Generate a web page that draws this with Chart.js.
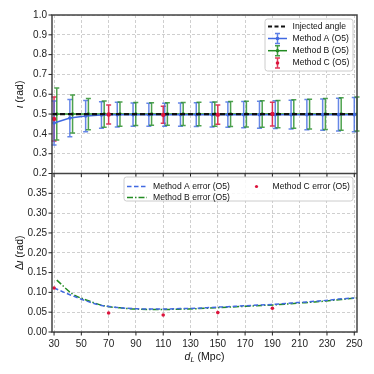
<!DOCTYPE html>
<html>
<head>
<meta charset="utf-8">
<script src="https://cdn.jsdelivr.net/npm/chart.js@4.4.1/dist/chart.umd.min.js"></script>
<style>
  html, body { margin: 0; padding: 0; background: #fff; }
  canvas { display: block; }
</style>
</head>
<body>
<canvas id="chart" width="374" height="374"></canvas>
<script>
// luminosity distance (Mpc)
var distances = [30, 41.58, 53.16, 64.74, 76.32, 87.89, 99.47, 111.05, 122.63, 134.21,
                 145.79, 157.37, 168.95, 180.53, 192.11, 203.68, 215.26, 226.84, 238.42, 250];
var methodAMean = [0.455, 0.480, 0.490, 0.495, 0.497, 0.497, 0.497, 0.497, 0.497, 0.497,
                   0.497, 0.497, 0.497, 0.497, 0.497, 0.497, 0.497, 0.497, 0.497, 0.497];
var methodAErr = [0.111, 0.094, 0.079, 0.067, 0.062, 0.059, 0.058, 0.058, 0.059, 0.060,
                  0.062, 0.064, 0.066, 0.068, 0.070, 0.073, 0.076, 0.079, 0.083, 0.086];
var methodBMean = [0.500, 0.500, 0.500, 0.500, 0.500, 0.500, 0.500, 0.500, 0.500, 0.500,
                   0.500, 0.500, 0.500, 0.500, 0.500, 0.500, 0.500, 0.500, 0.500, 0.500];
var methodBErr = [0.131, 0.096, 0.079, 0.066, 0.061, 0.058, 0.057, 0.057, 0.058, 0.059,
                  0.061, 0.063, 0.065, 0.067, 0.069, 0.072, 0.075, 0.078, 0.082, 0.086];
var methodBShift = 2; // method B drawn slightly to the right
var methodCDist = [30, 70, 110, 150, 190];
var methodCMean = [0.475, 0.498, 0.496, 0.497, 0.500];
var methodCErr = [0.111, 0.048, 0.043, 0.049, 0.060];
var injectedAngle = 0.5;

var xTicks = [30, 50, 70, 90, 110, 130, 150, 170, 190, 210, 230, 250];
var topTicks = [0.2, 0.3, 0.4, 0.5, 0.6, 0.7, 0.8, 0.9, 1.0];
var bottomTicks = [0, 0.05, 0.10, 0.15, 0.20, 0.25, 0.30, 0.35];
var xRange = [28.5, 252];

var BLUE = 'rgb(65,105,225)', GREEN = 'rgb(34,139,34)', RED = 'rgb(220,20,60)';
var FONT = '"Liberation Sans", Arial, sans-serif';

function pts(xs, ys, shift) {
  return xs.map(function (x, i) { return { x: x + (shift || 0), y: ys[i] }; });
}

// vertical error bars with caps
var errorBars = {
  id: 'errorBars',
  beforeDatasetsDraw: function (chart) {
    var ctx = chart.ctx;
    chart.data.datasets.forEach(function (ds, i) {
      if (!ds.errors) return;
      var meta = chart.getDatasetMeta(i);
      var ys = chart.scales[ds.yAxisID];
      ctx.save();
      ctx.strokeStyle = ds.errorColor;
      ctx.lineWidth = 1.5;
      meta.data.forEach(function (p, j) {
        var v = ds.data[j].y, e = ds.errors[j];
        var y1 = ys.getPixelForValue(v - e), y2 = ys.getPixelForValue(v + e);
        ctx.beginPath();
        ctx.moveTo(p.x, y1); ctx.lineTo(p.x, y2);
        ctx.moveTo(p.x - 2.5, y1); ctx.lineTo(p.x + 2.5, y1);
        ctx.moveTo(p.x - 2.5, y2); ctx.lineTo(p.x + 2.5, y2);
        ctx.stroke();
      });
      ctx.restore();
    });
  }
};

// axes frame, panel divider and tick marks
var frame = {
  id: 'frame',
  afterDatasetsDraw: function (chart) {
    var ctx = chart.ctx, a = chart.chartArea;
    var top = chart.scales.yTop, bot = chart.scales.yBot, xs = chart.scales.x;
    ctx.save();
    ctx.strokeStyle = '#444';
    ctx.lineWidth = 1.5;
    ctx.strokeRect(a.left, a.top, a.right - a.left, a.bottom - a.top);
    ctx.beginPath();
    ctx.moveTo(a.left, top.bottom); ctx.lineTo(a.right, top.bottom);
    ctx.stroke();
    ctx.lineWidth = 1;
    ctx.strokeStyle = '#222';
    ctx.beginPath();
    xTicks.forEach(function (v) {
      var x = xs.getPixelForValue(v);
      ctx.moveTo(x, a.bottom); ctx.lineTo(x, a.bottom + 3.5);
      ctx.moveTo(x, top.bottom); ctx.lineTo(x, top.bottom + 3.5);
    });
    topTicks.forEach(function (v) {
      var y = top.getPixelForValue(v);
      ctx.moveTo(a.left - 3.5, y); ctx.lineTo(a.left, y);
    });
    bottomTicks.forEach(function (v) {
      var y = bot.getPixelForValue(v);
      ctx.moveTo(a.left - 3.5, y); ctx.lineTo(a.left, y);
    });
    ctx.stroke();
    ctx.restore();
  }
};

function handleLine(ctx, x, y, w, color, dash, lw) {
  ctx.save();
  ctx.strokeStyle = color; ctx.lineWidth = lw; ctx.setLineDash(dash);
  ctx.beginPath(); ctx.moveTo(x, y); ctx.lineTo(x + w, y); ctx.stroke();
  ctx.restore();
}
function handleErr(ctx, cx, y, color) {
  ctx.save();
  ctx.strokeStyle = color; ctx.lineWidth = 1.5; ctx.globalAlpha = 0.85;
  ctx.beginPath();
  ctx.moveTo(cx, y - 5); ctx.lineTo(cx, y + 5);
  ctx.moveTo(cx - 2.5, y - 5); ctx.lineTo(cx + 2.5, y - 5);
  ctx.moveTo(cx - 2.5, y + 5); ctx.lineTo(cx + 2.5, y + 5);
  ctx.stroke();
  ctx.globalAlpha = 1;
  ctx.fillStyle = color;
  ctx.beginPath(); ctx.arc(cx, y, 1.8, 0, Math.PI * 2); ctx.fill();
  ctx.restore();
}
function legendBox(ctx, x, y, w, h) {
  ctx.save();
  ctx.fillStyle = 'rgba(255,255,255,0.85)';
  ctx.strokeStyle = '#cccccc';
  ctx.lineWidth = 1;
  ctx.beginPath();
  ctx.roundRect(x, y, w, h, 2.5);
  ctx.fill(); ctx.stroke();
  ctx.restore();
}

// legends drawn matplotlib style inside each panel, plus axis titles
var legends = {
  id: 'legends',
  afterDraw: function (chart) {
    var ctx = chart.ctx, a = chart.chartArea, top = chart.scales.yTop, bot = chart.scales.yBot;
    ctx.save();
    ctx.font = '8.6px ' + FONT;
    ctx.textBaseline = 'middle';
    ctx.fillStyle = '#111';

    // top panel
    var lx = a.right - 92, ly = a.top + 4;
    legendBox(ctx, lx, ly, 88, 52);
    var rows = [ly + 7.5, ly + 19.5, ly + 31.7, ly + 44];
    handleLine(ctx, lx + 3, rows[0], 19, '#111', [4, 2.5], 2);
    handleLine(ctx, lx + 3, rows[1], 19, BLUE, [], 1.5);
    handleErr(ctx, lx + 12.5, rows[1], BLUE);
    handleLine(ctx, lx + 3, rows[2], 19, GREEN, [], 1.5);
    handleErr(ctx, lx + 12.5, rows[2], GREEN);
    handleErr(ctx, lx + 12.5, rows[3], RED);
    ['Injected angle', 'Method A (O5)', 'Method B (O5)', 'Method C (O5)'].forEach(function (t, i) {
      ctx.fillText(t, lx + 27.5, rows[i]);
    });

    // bottom panel
    var bx = a.left + 72, by = top.bottom + 3.5;
    legendBox(ctx, bx, by, a.right - 4 - bx, 24);
    handleLine(ctx, bx + 3, by + 9.5, 20, BLUE, [4.5, 2.5], 1.5);
    handleLine(ctx, bx + 3, by + 20.5, 20, GREEN, [6, 2, 1.5, 2], 1.5);
    ctx.fillStyle = RED;
    ctx.beginPath(); ctx.arc(bx + 132.5, by + 9.5, 1.6, 0, Math.PI * 2); ctx.fill();
    ctx.fillStyle = '#111';
    ctx.fillText('Method A error (O5)', bx + 29, by + 9.5);
    ctx.fillText('Method B error (O5)', bx + 29, by + 20.5);
    ctx.fillText('Method C error (O5)', bx + 148.5, by + 9.5);

    // axis titles
    ctx.font = '10.5px ' + FONT;
    ctx.textAlign = 'center';
    ctx.save();
    ctx.translate(20, (top.top + top.bottom) / 2);
    ctx.rotate(-Math.PI / 2);
    ctx.font = 'italic 10.5px ' + FONT;
    var w1 = ctx.measureText('ι').width;
    ctx.font = '10.5px ' + FONT;
    var w2 = ctx.measureText(' (rad)').width;
    ctx.textAlign = 'left';
    ctx.font = 'italic 10.5px ' + FONT;
    ctx.fillText('ι', -(w1 + w2) / 2, 0);
    ctx.font = '10.5px ' + FONT;
    ctx.fillText(' (rad)', -(w1 + w2) / 2 + w1, 0);
    ctx.restore();

    ctx.save();
    ctx.translate(20, (bot.top + bot.bottom) / 2);
    ctx.rotate(-Math.PI / 2);
    var d1 = ctx.measureText('Δ').width;
    ctx.font = 'italic 10.5px ' + FONT;
    var d2 = ctx.measureText('ι').width;
    ctx.font = '10.5px ' + FONT;
    var d3 = ctx.measureText(' (rad)').width;
    var s = -(d1 + d2 + d3) / 2;
    ctx.textAlign = 'left';
    ctx.fillText('Δ', s, 0);
    ctx.font = 'italic 10.5px ' + FONT;
    ctx.fillText('ι', s + d1, 0);
    ctx.font = '10.5px ' + FONT;
    ctx.fillText(' (rad)', s + d1 + d2, 0);
    ctx.restore();

    // x title: d_L (Mpc)
    ctx.textAlign = 'left';
    ctx.font = 'italic 10.5px ' + FONT;
    var e1 = ctx.measureText('d').width;
    ctx.font = 'italic 7.5px ' + FONT;
    var e2 = ctx.measureText('L').width;
    ctx.font = '10.5px ' + FONT;
    var e3 = ctx.measureText(' (Mpc)').width;
    var sx = (a.left + a.right) / 2 - (e1 + e2 + e3) / 2, sy = 357;
    ctx.font = 'italic 10.5px ' + FONT;
    ctx.fillText('d', sx, sy);
    ctx.font = 'italic 7.5px ' + FONT;
    ctx.fillText('L', sx + e1, sy + 3);
    ctx.font = '10.5px ' + FONT;
    ctx.fillText(' (Mpc)', sx + e1 + e2, sy);
    ctx.restore();
  }
};

var gridOpts = { color: 'rgba(175,175,175,0.75)', lineWidth: 0.8, drawTicks: false };
var tickFont = { family: FONT, size: 10 };

var chart = new Chart(document.getElementById('chart'), {
  type: 'line',
  data: {
    datasets: [
      {
        label: 'Method C (O5)', yAxisID: 'yTop', order: 0,
        data: pts(methodCDist, methodCMean), errors: methodCErr, errorColor: 'rgba(220,20,60,0.85)',
        showLine: false, pointRadius: 2.2, pointBackgroundColor: RED, pointBorderWidth: 0
      },
      {
        label: 'Injected angle', yAxisID: 'yTop', order: 1,
        data: pts(xRange, [injectedAngle, injectedAngle]),
        borderColor: '#111', borderWidth: 2.2, borderDash: [5, 3], pointRadius: 0
      },
      {
        label: 'Method A (O5)', yAxisID: 'yTop', order: 2,
        data: pts(distances, methodAMean), errors: methodAErr, errorColor: 'rgba(65,105,225,0.8)',
        borderColor: BLUE, borderWidth: 1.5, pointRadius: 1.8, pointBackgroundColor: BLUE, pointBorderWidth: 0
      },
      {
        label: 'Method B (O5)', yAxisID: 'yTop', order: 3,
        data: pts(distances, methodBMean, methodBShift), errors: methodBErr, errorColor: 'rgba(34,139,34,0.8)',
        borderColor: GREEN, borderWidth: 1.5, pointRadius: 1.8, pointBackgroundColor: GREEN, pointBorderWidth: 0
      },
      {
        label: 'Method A error (O5)', yAxisID: 'yBot', order: 5,
        data: pts(distances, methodAErr),
        borderColor: BLUE, borderWidth: 1.5, borderDash: [4.5, 2.5], pointRadius: 0, cubicInterpolationMode: 'monotone'
      },
      {
        label: 'Method B error (O5)', yAxisID: 'yBot', order: 6,
        data: pts(distances, methodBErr, methodBShift),
        borderColor: GREEN, borderWidth: 1.5, borderDash: [6, 2, 1.5, 2], pointRadius: 0, cubicInterpolationMode: 'monotone'
      },
      {
        label: 'Method C error (O5)', yAxisID: 'yBot', order: 4,
        data: pts(methodCDist, methodCErr),
        showLine: false, pointRadius: 1.8, pointBackgroundColor: RED, pointBorderWidth: 0
      }
    ]
  },
  options: {
    responsive: false,
    animation: false,
    devicePixelRatio: 1,
    layout: { padding: { top: 15, right: 17, left: 0, bottom: 0 } },
    plugins: { legend: { display: false }, tooltip: { enabled: false } },
    scales: {
      x: {
        type: 'linear', min: xRange[0], max: xRange[1],
        afterBuildTicks: function (s) { s.ticks = xTicks.map(function (v) { return { value: v }; }); },
        afterFit: function (s) { s.height = 42; },
        grid: gridOpts,
        border: { display: false, dash: [3, 2] },
        ticks: { font: tickFont, color: '#222', padding: 6, maxRotation: 0, autoSkip: false }
      },
      yBot: {
        type: 'linear', position: 'left', stack: 'panels', stackWeight: 1, min: 0, max: 0.4,
        afterBuildTicks: function (s) { s.ticks = bottomTicks.map(function (v) { return { value: v }; }); },
        afterFit: function (s) { s.width = 52; },
        grid: gridOpts,
        border: { display: false, dash: [3, 2] },
        ticks: { font: tickFont, color: '#222', padding: 5, autoSkip: false, callback: function (v) { return v.toFixed(2); } }
      },
      yTop: {
        type: 'linear', position: 'left', stack: 'panels', stackWeight: 1, min: 0.2, max: 1.0,
        afterBuildTicks: function (s) { s.ticks = topTicks.map(function (v) { return { value: v }; }); },
        afterFit: function (s) { s.width = 52; },
        grid: gridOpts,
        border: { display: false, dash: [3, 2] },
        ticks: { font: tickFont, color: '#222', padding: 5, autoSkip: false, callback: function (v) { return v.toFixed(1); } }
      }
    }
  },
  plugins: [errorBars, frame, legends]
});
</script>
</body>
</html>
